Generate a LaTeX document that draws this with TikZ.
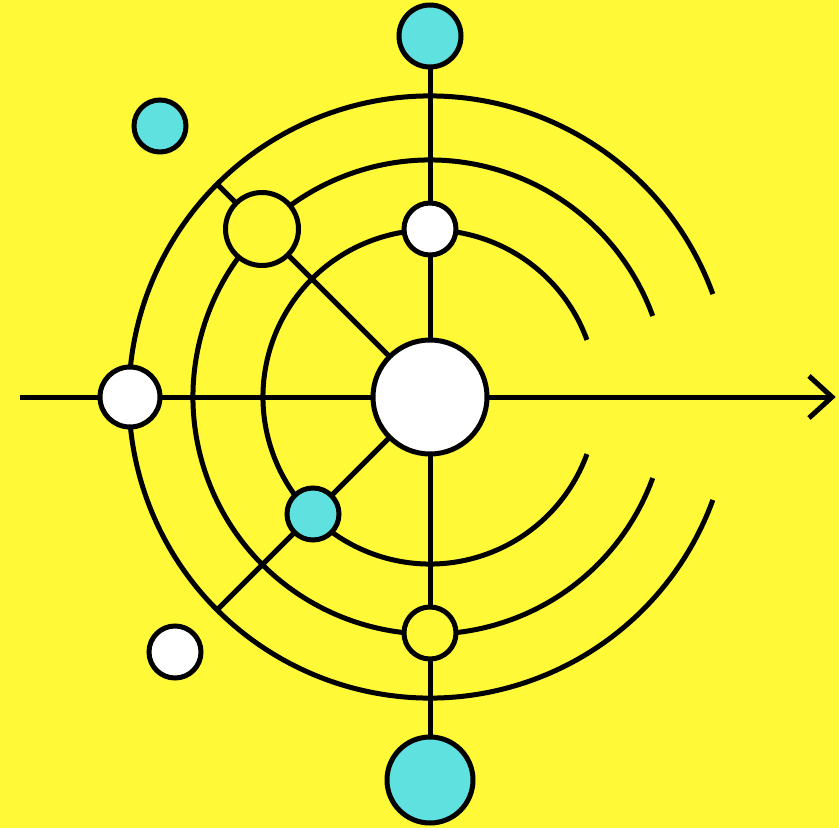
\documentclass[tikz,border=0pt]{standalone}
\usetikzlibrary{calc}
\definecolor{bgyellow}{HTML}{FFF937}
\definecolor{cyanfill}{HTML}{5FE1DF}
\pgfdeclarelayer{back}
\pgfdeclarelayer{lines}
\pgfsetlayers{back,lines,main}
\tikzset{
  stroke/.style={line width=5pt, black},
  dot/.style={circle, draw=black, line width=5pt, inner sep=0pt, minimum size=#1},
  whitedot/.style={dot=#1, fill=white},
  cyandot/.style={dot=#1, fill=cyanfill},
  yellowdot/.style={dot=#1, fill=bgyellow},
}
\begin{document}
\begin{tikzpicture}[x=1pt, y=-1pt]
\begin{pgfonlayer}{back}
\fill[bgyellow] (0,0) rectangle (839,828);
\end{pgfonlayer}
\useasboundingbox (0,0) rectangle (839,828);
\coordinate (c) at (430,397);
\coordinate (dul) at ($(c)+(-135:301)$);
\coordinate (dll) at ($(c)+(135:301)$);
\coordinate (arrstart) at (20,397);
\coordinate (tip) at (832,397);
% nodes
\node[cyandot=62pt] (top) at (430,36) {};
\node[cyandot=86pt] (bot) at (430,780) {};
\node[whitedot=52pt] (tw) at (430,229) {};
\node[yellowdot=52pt] (by) at (430,633) {};
\node[whitedot=60pt] (lw) at (130,397) {};
\node[yellowdot=73pt] (uly) at (262,229) {};
\node[cyandot=52pt] (llc) at (313,514) {};
\node[cyandot=52pt] (iso1) at (160,126) {};
\node[whitedot=52pt] (iso2) at (175,652) {};
\node[whitedot=114pt] (ctr) at (c) {};
\begin{pgfonlayer}{lines}
% arcs
\draw[stroke] (c) ++(-20:167) arc[start angle=-20, end angle=-340, radius=167];
\draw[stroke] (c) ++(-20:237) arc[start angle=-20, end angle=-340, radius=237];
\draw[stroke] (c) ++(-20:301) arc[start angle=-20, end angle=-340, radius=301];
% connectors
\draw[stroke] (top.center) -- (bot.center);
\draw[stroke] (dul) -- (ctr.center) -- (dll);
\draw[stroke] (arrstart) -- (tip);
\draw[stroke, miter limit=10] ($(tip)+(-23,-21)$) -- (tip) -- ($(tip)+(-23,21)$);
\end{pgfonlayer}
\end{tikzpicture}
\end{document}
